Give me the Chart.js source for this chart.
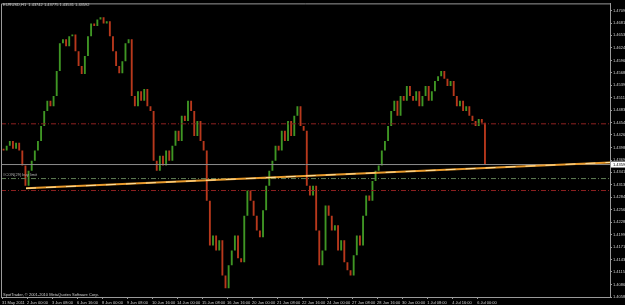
<!DOCTYPE html>
<html>
<head>
<meta charset="utf-8">
<script src="https://cdn.jsdelivr.net/npm/chart.js@4.4.0/dist/chart.umd.min.js"></script>
<style>
html, body { margin: 0; padding: 0; background: #000; }
#wrap { width: 625px; height: 305px; }
</style>
</head>
<body>
<div id="wrap"><canvas id="chart"></canvas></div>
<script>
const title = 'EURUSD,H1  1.43742 1.43775 1.43531 1.43592';
const copyright = 'SpotTrader, \u00a9 2001-2010 MetaQuotes Software Corp.';
const orderLabel = '#CON(29) buy limit';

// 4-hour steps, price at the end of each step (EURUSD)
const firstOpen = 1.4395;
const closes = [
    1.4391, 1.4402, 1.4413, 1.4395, 1.4409, 1.4391, 1.4357, 1.4311, 1.4345, 1.4368,
    1.4391, 1.4413, 1.4447, 1.4481, 1.4504, 1.4492, 1.4515, 1.4572, 1.4635, 1.4644,
    1.4628, 1.4651, 1.4655, 1.4617, 1.4583, 1.4565, 1.4606, 1.4651, 1.4680, 1.4674,
    1.4689, 1.4694, 1.4680, 1.4685, 1.4651, 1.4617, 1.4583, 1.4567, 1.4594, 1.4635,
    1.4644, 1.4515, 1.4492, 1.4526, 1.4504, 1.4531, 1.4492, 1.4481, 1.4368, 1.4345,
    1.4379, 1.4357, 1.4391, 1.4368, 1.4402, 1.4436, 1.4413, 1.4470, 1.4458, 1.4504,
    1.4481, 1.4424, 1.4458, 1.4413, 1.4391, 1.4277, 1.4175, 1.4198, 1.4164, 1.4187,
    1.4107, 1.4078, 1.4130, 1.4164, 1.4198, 1.4146, 1.4137, 1.4243, 1.4300, 1.4277,
    1.4243, 1.4209, 1.4194, 1.4255, 1.4311, 1.4345, 1.4368, 1.4402, 1.4391, 1.4436,
    1.4413, 1.4458, 1.4424, 1.4470, 1.4492, 1.4447, 1.4436, 1.4311, 1.4289, 1.4311,
    1.4209, 1.4130, 1.4164, 1.4266, 1.4243, 1.4209, 1.4221, 1.4164, 1.4187, 1.4137,
    1.4119, 1.4107, 1.4153, 1.4198, 1.4175, 1.4243, 1.4289, 1.4277, 1.4322, 1.4345,
    1.4357, 1.4391, 1.4413, 1.4447, 1.4481, 1.4504, 1.4470, 1.4515, 1.4504, 1.4538,
    1.4515, 1.4504, 1.4526, 1.4492, 1.4515, 1.4538, 1.4504, 1.4526, 1.4549, 1.4560,
    1.4572, 1.4554, 1.4538, 1.4549, 1.4515, 1.4492, 1.4504, 1.4481, 1.4492, 1.4470,
    1.4458, 1.4447, 1.4463, 1.4454, 1.43592
];

const hourTicks = [0, 32, 64, 96, 128, 160, 192, 224, 256, 288, 320, 352, 384, 416, 448, 480, 512, 544, 576, 608];
const hourLabels = [
    '31 May 2011', '2 Jun 00:00', '3 Jun 08:00', '6 Jun 16:00', '8 Jun 00:00',
    '9 Jun 08:00', '10 Jun 16:00', '14 Jun 00:00', '15 Jun 08:00', '16 Jun 16:00',
    '20 Jun 00:00', '21 Jun 08:00', '22 Jun 16:00', '24 Jun 00:00', '27 Jun 08:00',
    '28 Jun 16:00', '30 Jun 00:00', '1 Jul 08:00', '4 Jul 16:00', '6 Jul 00:00'
];

const priceTicks = [
    1.40580, 1.40865, 1.41150, 1.41430, 1.41715, 1.41995, 1.42280, 1.42560,
    1.42845, 1.43130, 1.43415, 1.43695, 1.43980, 1.44265, 1.44545, 1.44830,
    1.45115, 1.45395, 1.45680, 1.45960, 1.46245, 1.46530, 1.46810, 1.47095
];

const lastPrice = 1.43592;
const upperRed = 1.44518;
const orderLevel = 1.43273;
const lowerRed = 1.43001;
const trendHours = [30.7, 778];
const trendPrices = [1.4305, 1.4364];

const xMin = -1.28, xMax = 778;
const yMin = 1.4058, yMax = 1.47256;

const upColor = '#3f9624';
const downColor = '#b8381c';
const textColor = '#d0d0d0';
const frameColor = '#9a9a9a';
const smallFont = { family: 'Liberation Sans', size: 4 };

const bodies = closes.map((c, i) => {
    const o = i === 0 ? firstOpen : closes[i - 1];
    return { x: i * 4 + 2, y: [o, c] };
});
const barColors = bodies.map(b => (b.y[1] >= b.y[0] ? upColor : downColor));

function flat(price) {
    return [{ x: xMin, y: price }, { x: xMax, y: price }];
}

const overlay = {
    id: 'overlay',
    afterDraw(chart) {
        const { ctx, chartArea, scales } = chart;
        ctx.save();
        ctx.strokeStyle = frameColor;
        ctx.lineWidth = 1;
        ctx.beginPath();
        ctx.moveTo(chartArea.left + 0.5, chartArea.bottom);
        ctx.lineTo(chartArea.left + 0.5, chartArea.top + 0.5);
        ctx.lineTo(chartArea.right, chartArea.top + 0.5);
        ctx.stroke();

        ctx.font = '4px "Liberation Sans"';
        ctx.textBaseline = 'middle';
        ctx.textAlign = 'left';
        ctx.fillStyle = textColor;
        ctx.fillText(title, 3, 5);
        ctx.fillText(copyright, 3, 294.5);
        ctx.fillStyle = '#b0b0b0';
        ctx.fillText(orderLabel, 3, scales.y.getPixelForValue(orderLevel) - 3.5);

        // current price box on the price axis
        const py = scales.y.getPixelForValue(lastPrice);
        ctx.fillStyle = '#ffffff';
        ctx.fillRect(chartArea.right + 1, py - 3, 625 - chartArea.right - 1, 6);
        ctx.fillStyle = '#000000';
        ctx.fillText(lastPrice.toFixed(5), chartArea.right + 3, py);
        ctx.restore();
    }
};

new Chart(document.getElementById('chart'), {
    type: 'bar',
    data: {
        datasets: [
            {
                type: 'line',
                data: [{ x: trendHours[0], y: trendPrices[0] }, { x: trendHours[1], y: trendPrices[1] }],
                borderColor: '#ffe2a0',
                borderWidth: 1,
                borderDash: [10, 10],
                pointRadius: 0,
                order: 0
            },
            {
                type: 'line',
                data: [{ x: trendHours[0], y: trendPrices[0] }, { x: trendHours[1], y: trendPrices[1] }],
                borderColor: '#e89a2c',
                borderWidth: 2,
                pointRadius: 0,
                order: 1
            },
            {
                type: 'line',
                data: flat(lastPrice),
                borderColor: '#8c8c8c',
                borderWidth: 1,
                pointRadius: 0,
                order: 2
            },
            {
                type: 'line',
                data: flat(upperRed),
                borderColor: '#8e2020',
                borderWidth: 1,
                borderDash: [5, 2, 1, 2],
                pointRadius: 0,
                order: 2
            },
            {
                type: 'line',
                data: flat(orderLevel),
                borderColor: '#5f7f55',
                borderWidth: 1,
                borderDash: [5, 2, 1, 2],
                pointRadius: 0,
                order: 2
            },
            {
                type: 'line',
                data: flat(lowerRed),
                borderColor: '#8e2020',
                borderWidth: 1,
                borderDash: [5, 2, 1, 2],
                pointRadius: 0,
                order: 2
            },
            {
                data: bodies,
                backgroundColor: barColors,
                borderWidth: 0,
                barPercentage: 0.6,
                categoryPercentage: 1,
                grouped: false,
                order: 10
            }
        ]
    },
    options: {
        responsive: true,
        maintainAspectRatio: false,
        animation: false,
        devicePixelRatio: 1,
        layout: { padding: { left: 1, top: 2, right: 0, bottom: 0 } },
        plugins: {
            legend: { display: false },
            tooltip: { enabled: false }
        },
        scales: {
            x: {
                type: 'linear',
                min: xMin,
                max: xMax,
                offset: false,
                grid: { display: true, drawOnChartArea: false, drawTicks: true, tickLength: 2, color: frameColor, offset: false },
                border: { color: frameColor },
                ticks: {
                    autoSkip: false,
                    maxRotation: 0,
                    align: 'start',
                    padding: 1,
                    color: textColor,
                    font: smallFont,
                    callback: v => {
                        const k = hourTicks.indexOf(v);
                        return k >= 0 ? hourLabels[k] : '';
                    }
                },
                afterBuildTicks: s => { s.ticks = hourTicks.map(v => ({ value: v })); },
                afterFit: s => { s.height = 8; }
            },
            y: {
                position: 'right',
                min: yMin,
                max: yMax,
                grid: { display: true, drawOnChartArea: false, drawTicks: true, tickLength: 2, color: frameColor },
                border: { color: frameColor },
                ticks: {
                    autoSkip: false,
                    padding: 1,
                    color: textColor,
                    font: smallFont,
                    callback: v => v.toFixed(5)
                },
                afterBuildTicks: s => { s.ticks = priceTicks.map(v => ({ value: v })); },
                afterFit: s => { s.width = 15; }
            }
        }
    },
    plugins: [overlay]
});
</script>
</body>
</html>
